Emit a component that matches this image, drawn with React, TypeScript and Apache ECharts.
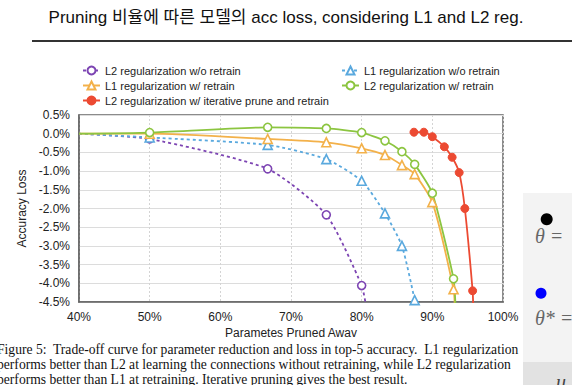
import React, { useEffect, useRef } from "react";
import * as echarts from "echarts";

const xTicks = [40, 50, 60, 70, 80, 90, 100];
const yTicks = [0.5, 0, -0.5, -1, -1.5, -2, -2.5, -3, -3.5, -4, -4.5];

const l2NoRetrainX = [40, 50, 66.7, 75, 80, 80.7];
const l2NoRetrainY = [0, -0.14, -0.94, -2.17, -4.06, -4.7];

const l1NoRetrainX = [40, 50, 66.7, 75, 80, 83.3, 85.7, 87.5];
const l1NoRetrainY = [0, -0.1, -0.3, -0.68, -1.26, -2.13, -3.0, -4.45];

const l1RetrainX = [40, 50, 66.7, 75, 80, 83.3, 85.7, 87.5, 90, 93, 93.2];
const l1RetrainY = [0, 0, -0.14, -0.23, -0.39, -0.57, -0.84, -1.08, -1.83, -4.16, -4.7];

const l2RetrainX = [40, 50, 66.7, 75, 80, 83.3, 85.7, 87.5, 90, 93, 93.3];
const l2RetrainY = [0, 0.03, 0.17, 0.14, 0.03, -0.19, -0.48, -0.82, -1.59, -3.88, -4.7];

const iterX = [87.4, 88.8, 90, 91.7, 92.8, 93.8, 94.6, 95.7, 95.8];
const iterY = [0.04, 0.04, -0.08, -0.35, -0.63, -1.04, -2.0, -4.2, -4.7];

const captionLines = [
  "Figure 5:  Trade-off curve for parameter reduction and loss in top-5 accuracy.  L1 regularization",
  "performs better than L2 at learning the connections without retraining, while L2 regularization",
  "performs better than L1 at retraining. Iterative pruning gives the best result.",
];

function buildData(xs: number[], ys: number[], markFirst: boolean, markLast: boolean) {
  return xs.map((x, i) => {
    const item: any = { value: [x, ys[i]] };
    if ((i === 0 && !markFirst) || (i === xs.length - 1 && !markLast)) item.symbol = "none";
    return item;
  });
}

export default function App() {
  const ref = useRef<HTMLDivElement>(null);
  useEffect(() => {
    if (!ref.current) return;
    const chart = echarts.init(ref.current, null, { renderer: "svg" });
    const font = "'Liberation Sans', Arial, sans-serif";
    const mk = (
      name: string,
      xs: number[],
      ys: number[],
      color: string,
      symbol: string,
      dashed: boolean,
      filled: boolean,
      markFirst: boolean,
      markLast: boolean
    ) => ({
      name,
      type: "line",
      data: buildData(xs, ys, markFirst, markLast),
      smooth: 0.2,
      symbol,
      symbolSize: symbol === "triangle" ? 9 : 8,
      showAllSymbol: true,
      clip: true,
      lineStyle: { color, width: 1.8, type: dashed ? [3, 3] : "solid" },
      itemStyle: filled
        ? { color, borderColor: color, borderWidth: 1 }
        : { color: "#ffffff", borderColor: color, borderWidth: 1.6 },
      color,
      z: 3,
    });
    const legendText = { fontSize: 11, color: "#222", fontFamily: font };
    chart.setOption({
      animation: false,
      backgroundColor: "#ffffff",
      textStyle: { fontFamily: font },
      grid: {
        left: 79,
        right: 69,
        top: 115,
        bottom: 83,
        show: true,
        borderColor: "#666",
        borderWidth: 1.5,
        containLabel: false,
      },
      legend: [
        {
          orient: "vertical",
          left: 77,
          top: 60,
          itemWidth: 17,
          itemHeight: 10,
          itemGap: 4,
          textStyle: legendText,
          data: [
            "L2 regularization w/o retrain",
            "L1 regularization w/ retrain",
            "L2 regularization w/ iterative prune and retrain",
          ],
        },
        {
          orient: "vertical",
          left: 336,
          top: 60,
          itemWidth: 17,
          itemHeight: 10,
          itemGap: 4,
          textStyle: legendText,
          data: ["L1 regularization w/o retrain", "L2 regularization w/ retrain"],
        },
      ],
      xAxis: {
        type: "value",
        min: xTicks[0],
        max: xTicks[xTicks.length - 1],
        interval: 10,
        name: "Parametes Pruned Awav",
        nameLocation: "middle",
        nameGap: 25,
        nameTextStyle: { fontSize: 12, color: "#222", fontFamily: font },
        axisLine: { show: true, onZero: false, lineStyle: { color: "#666", width: 1.5 } },
        axisTick: { show: false },
        axisLabel: { fontSize: 12, color: "#222", margin: 9, formatter: (v: number) => `${v}%` },
        splitLine: { show: true, lineStyle: { color: "#d4d4d4", type: [2, 2], width: 1 } },
      },
      yAxis: {
        type: "value",
        min: yTicks[yTicks.length - 1],
        max: yTicks[0],
        interval: 0.5,
        name: "Accuracy Loss",
        nameLocation: "middle",
        nameGap: 42,
        nameTextStyle: { fontSize: 12, color: "#222", fontFamily: font },
        axisLine: { show: true, onZero: false, lineStyle: { color: "#666", width: 1.5 } },
        axisTick: { show: false },
        axisLabel: { fontSize: 12, color: "#222", margin: 9, formatter: (v: number) => `${v.toFixed(1)}%` },
        splitLine: { show: true, lineStyle: { color: "#dcdcdc", width: 1 } },
      },
      series: [
        mk("L2 regularization w/o retrain", l2NoRetrainX, l2NoRetrainY, "#7d45b3", "circle", true, false, false, false),
        mk("L1 regularization w/o retrain", l1NoRetrainX, l1NoRetrainY, "#5aa9de", "triangle", true, false, false, true),
        mk("L1 regularization w/ retrain", l1RetrainX, l1RetrainY, "#f3b14a", "triangle", false, false, false, false),
        mk("L2 regularization w/ retrain", l2RetrainX, l2RetrainY, "#8cc540", "circle", false, false, false, false),
        mk("L2 regularization w/ iterative prune and retrain", iterX, iterY, "#ec4a32", "circle", false, true, true, false),
      ],
      graphic: [
        {
          type: "text",
          left: "center",
          top: 9,
          style: {
            text: "Pruning 비율에 따른 모델의 acc loss, considering L1 and L2 reg.",
            font: "17px 'Liberation Sans', 'Noto Sans CJK KR', sans-serif",
            fill: "#111",
          },
        },
        {
          type: "line",
          shape: { x1: 32, y1: 41, x2: 572, y2: 41 },
          style: { stroke: "#333", lineWidth: 2 },
        },
        ...captionLines.map((t, i) => ({
          type: "text",
          x: -3,
          y: 349 + i * 15,
          style: {
            text: t,
            font: "13.6px 'Liberation Serif', 'Times New Roman', serif",
            fill: "#111",
            verticalAlign: "middle",
          },
        })),
        {
          type: "rect",
          shape: { x: 523, y: 193, width: 49, height: 192 },
          style: { fill: "#f3f3f3" },
        },
        {
          type: "rect",
          shape: { x: 523, y: 362, width: 49, height: 23 },
          style: { fill: "#e2e2e2" },
        },
        { type: "circle", shape: { cx: 546.7, cy: 219.3, r: 6 }, style: { fill: "#000" } },
        { type: "circle", shape: { cx: 541, cy: 293.3, r: 5.5 }, style: { fill: "#0000ff" } },
        {
          type: "text",
          x: 535,
          y: 236,
          style: {
            text: "θ =",
            font: "italic 20px 'Liberation Serif', serif",
            fill: "#666",
            verticalAlign: "middle",
          },
        },
        {
          type: "text",
          x: 535,
          y: 318,
          style: {
            text: "θ* =",
            font: "italic 20px 'Liberation Serif', serif",
            fill: "#666",
            verticalAlign: "middle",
          },
        },
        {
          type: "text",
          x: 556,
          y: 382,
          style: {
            text: "u",
            font: "italic 20px 'Liberation Serif', serif",
            fill: "#444",
            verticalAlign: "middle",
          },
        },
      ],
    });
    return () => chart.dispose();
  }, []);
  return (
    <div
      ref={ref}
      style={{ position: "fixed", left: 0, top: 0, width: 572, height: 385, background: "#fff" }}
    />
  );
}
